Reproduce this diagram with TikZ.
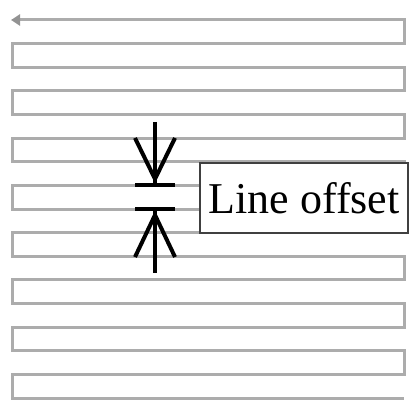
\documentclass[tikz,border=0pt]{standalone}
\usepackage{fontspec}
\setmainfont{Liberation Serif}
\usetikzlibrary{positioning,arrows.meta,calc}

\begin{document}
\begin{tikzpicture}[
          x=1pt, y=-1pt,
          track/.style={draw=gray!65, line width=3pt, line join=miter},
          dimline/.style={draw=black, line width=4pt},
          lbl/.style={draw=black!75, line width=2pt, fill=white, font=\fontsize{44}{48}\selectfont,
                      minimum width=208pt, minimum height=69pt, inner sep=0pt}
      ]
        \useasboundingbox (0,0) rectangle (414,403);
        % serpentine path
        \draw[track, {Triangle[length=9pt,width=11pt,color=gray!85]}-] (11,20)
          \foreach \k in {0,2,...,14} {
            -- (404,{20+\k*23.625}) -- (404,{20+(\k+1)*23.625})
            -- (12,{20+(\k+1)*23.625}) -- (12,{20+(\k+2)*23.625})
          } -- (404,398);
        % label
        \node[lbl] (offset) at (304,198) {Line offset};
        % offset marks
        \coordinate (top) at (155,185);
        \coordinate (bot) at (155,209);
        \draw[dimline] (155,122) -- (top);
        \draw[dimline] (135,138) -- ($(top)+(0,-6)$) -- (175,138);
        \draw[dimline] ($(top)+(-20,0)$) -- ($(top)+(20,0)$);
        \draw[dimline] (bot) -- (155,273);
        \draw[dimline] (135,257) -- ($(bot)+(0,6)$) -- (175,257);
        \draw[dimline] ($(bot)+(-20,0)$) -- ($(bot)+(20,0)$);
      \end{tikzpicture}
\end{document}
